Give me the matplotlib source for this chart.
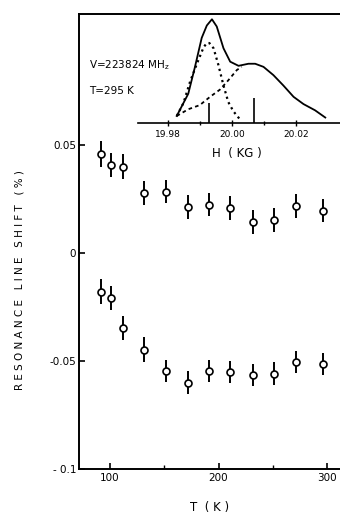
import matplotlib
matplotlib.use("Agg")
import matplotlib.pyplot as plt
import numpy as np

plt.rcParams['font.family'] = ['DejaVu Sans']

# main panel: resonance line shift vs temperature
temps = [92, 101, 112, 131, 152, 172, 191, 211, 232, 251, 271, 296]
shift_upper = [0.0458, 0.0407, 0.0400, 0.0276, 0.0284, 0.0214, 0.0224, 0.0208, 0.0144, 0.0153, 0.0218, 0.0196]
err_upper = [0.0058, 0.0055, 0.0057, 0.0055, 0.0055, 0.0055, 0.0055, 0.0055, 0.0055, 0.0055, 0.0055, 0.0055]
shift_lower = [-0.0179, -0.0207, -0.0346, -0.0449, -0.0546, -0.0600, -0.0546, -0.0551, -0.0566, -0.0559, -0.0505, -0.0515]
err_lower = [0.0058, 0.0055, 0.0056, 0.0058, 0.0052, 0.0052, 0.0052, 0.0052, 0.0052, 0.0052, 0.0052, 0.0052]

# inset: line shape at T = 295 K (arbitrary intensity units)
h_total = [19.9828, 19.9864, 19.9885, 19.9906, 19.9922, 19.9938, 19.9953, 19.9974, 19.9995,
           20.0021, 20.0052, 20.0073, 20.0099, 20.0130, 20.0161, 20.0193, 20.0224, 20.0260, 20.0292]
i_total = [0.065, 0.28, 0.54, 0.82, 0.94, 1.00, 0.93, 0.72, 0.59,
           0.55, 0.57, 0.57, 0.54, 0.46, 0.36, 0.25, 0.18, 0.12, 0.05]
h_comp1 = [19.9828, 19.9849, 19.9870, 19.9891, 19.9912, 19.9922, 19.9930, 19.9943, 19.9958,
           19.9974, 19.9989, 20.0005, 20.0026]
i_comp1 = [0.065, 0.19, 0.40, 0.57, 0.73, 0.77, 0.77, 0.72, 0.56, 0.36, 0.20, 0.11, 0.03]
h_comp2 = [19.9828, 19.9864, 19.9900, 19.9932, 19.9963, 19.9989, 20.0016, 20.0031]
i_comp2 = [0.065, 0.13, 0.17, 0.25, 0.32, 0.41, 0.51, 0.54]
h_sticks = [19.9930, 20.0068]
i_sticks = [0.19, 0.24]

W, H = 340, 514
fig = plt.figure(figsize=(W / 100, H / 100), dpi=100)
fig.patch.set_facecolor('white')

def px(x0, y0, x1, y1):
    return [x0 / W, 1 - y1 / H, (x1 - x0) / W, (y1 - y0) / H]

# the scanned figure is cut at the right edge: no right frame line
ax = fig.add_axes(px(79, 14, 340, 469))
ax.set_xlim(71.4, 312)
ax.set_ylim(-0.1, 0.1106)
ax.spines['right'].set_visible(False)
for sh, er in [(shift_upper, err_upper), (shift_lower, err_lower)]:
    ax.errorbar(temps, sh, yerr=er, fmt='o', ms=5, mfc='white', mec='black',
                mew=1.2, ecolor='black', elinewidth=1.4, capsize=0, zorder=3)
ax.set_xticks([100, 200, 300])
ax.set_xticks([150, 250], minor=True)
ax.set_yticks([-0.1, -0.05, 0, 0.05])
ax.set_yticklabels(['- 0.1', '-0.05', '0', '0.05'])
ax.tick_params(direction='in', length=4, width=1.2, labelsize=7.5, pad=2)
ax.tick_params(which='minor', direction='in', length=3, width=1.0)
ax.tick_params(axis='x', pad=3)
for s in ax.spines.values():
    s.set_linewidth(1.4)

fig.text(20 / W, 1 - 280 / H, 'R E S O N A N C E   L I N E   S H I F T   ( % )',
         rotation=90, ha='center', va='center', fontsize=7.5)
fig.text(210 / W, 1 - 507 / H, 'T  ( K )', ha='center', va='center', fontsize=8.5)

# inset
ins = fig.add_axes(px(138, 14, 340, 122.7))
ins.set_xlim(19.9707, 20.0338)
ins.set_ylim(0, 1.051)
ins.patch.set_alpha(0)
ins.plot(h_total, i_total, color='black', lw=1.3)
ins.plot(h_comp1, i_comp1, color='black', lw=1.6, ls=(0, (1, 1.6)))
ins.plot(h_comp2, i_comp2, color='black', lw=1.3, ls=(0, (2, 1.8)))
ins.vlines(h_sticks, 0, i_sticks, color='black', lw=1.2)
for side in ['left', 'right', 'top']:
    ins.spines[side].set_visible(False)
ins.spines['bottom'].set_linewidth(1.2)
ins.set_yticks([])
ins.set_xticks([19.98, 20.00, 20.02])
ins.set_xticklabels(['19.98', '20.00', '20.02'])
ins.set_xticks([19.99, 20.01], minor=True)
ins.tick_params(axis='x', direction='inout', length=4, width=1.0, labelsize=6.5, pad=3)
ins.tick_params(axis='x', which='minor', direction='inout', length=3, width=1.0)

fig.text(237 / W, 1 - 154 / H, 'H  ( KG )', ha='center', va='center', fontsize=8.5)
fig.text(89 / W, 1 - 65 / H, 'V=223824 MH$_\\mathrm{z}$', ha='left', va='center', fontsize=7.5)
fig.text(89 / W, 1 - 90.5 / H, 'T=295 K', ha='left', va='center', fontsize=7.5)

fig.savefig('out.png', dpi=100)
